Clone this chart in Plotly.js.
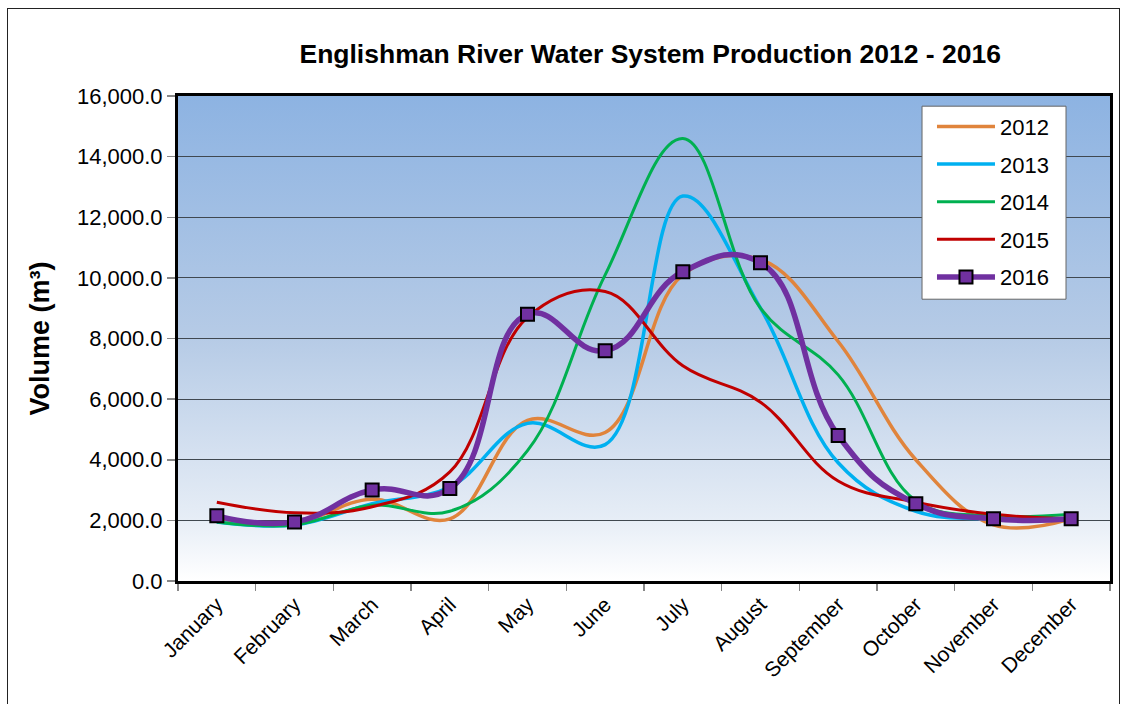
<!DOCTYPE html>
<html>
<head>
<meta charset="utf-8">
<script src="https://cdn.plot.ly/plotly-3.0.1.min.js"></script>
<style>
  html, body { margin: 0; padding: 0; background: #fff; overflow: hidden; }
  #chart { width: 1123px; height: 704px; position: absolute; left: 0; top: 0; }
  #frame { position: absolute; left: 7px; top: 8px; width: 1111px; height: 720px;
           border: 1.5px solid #222; pointer-events: none; }
</style>
</head>
<body>
<div id="chart"></div>
<div id="frame"></div>
<script>
const months = ["January","February","March","April","May","June","July","August","September","October","November","December"];
const y2012 = [2050, 1900, 2700, 2050, 5300, 4900, 10100, 10600, 7900, 4000, 1850, 2050];
const y2013 = [1950, 1850, 2550, 3100, 5200, 4500, 12700, 9000, 3900, 2300, 2050, 2050];
const y2014 = [1950, 1850, 2500, 2300, 4300, 10100, 14600, 9000, 6800, 2650, 2150, 2200];
const y2015 = [2600, 2250, 2450, 3600, 8700, 9550, 7100, 5900, 3300, 2600, 2200, 2050];
const y2016 = [2150, 1950, 3000, 3050, 8800, 7600, 10200, 10500, 4800, 2550, 2050, 2050];

const seriesNames = ["2012","2013","2014","2015","2016"];
const seriesData = [y2012, y2013, y2014, y2015, y2016];
const colors = ["#E0843C", "#00B0F0", "#00B050", "#C00000", "#7030A0"];
const widths = [3.5, 3.5, 3, 3, 5.5];
const smooth = [1.1, 1.1, 1.1, 1.1, 1.3];

const traces = seriesData.map((ys, i) => {
  const t = {
    x: months, y: ys, name: seriesNames[i], type: "scatter",
    mode: i === 4 ? "lines+markers" : "lines",
    legendgroup: "g" + i,
    line: { color: colors[i], width: widths[i], shape: "spline", smoothing: smooth[i] }
  };
  if (i === 4) {
    t.marker = { symbol: "square", size: 13, color: "#7030A0", line: { color: "#000", width: 2 } };
  }
  return t;
});

const gradSvg = '<svg xmlns="http://www.w3.org/2000/svg" width="100" height="100" preserveAspectRatio="none">' +
  '<defs><linearGradient id="g" x1="0" y1="0" x2="0" y2="1">' +
  '<stop offset="0" stop-color="#8DB3E2"/>' +
  '<stop offset="0.5" stop-color="#B6CBE6"/>' +
  '<stop offset="0.87" stop-color="#E6EDF6"/>' +
  '<stop offset="1" stop-color="#FFFFFF"/>' +
  '</linearGradient></defs><rect width="100" height="100" fill="url(#g)"/></svg>';
const gradUri = "data:image/svg+xml;base64," + btoa(gradSvg);

const layout = {
  width: 1123, height: 704,
  margin: { l: 178, r: 13, t: 96, b: 123 },
  paper_bgcolor: "rgba(0,0,0,0)",
  plot_bgcolor: "rgba(0,0,0,0)",
  font: { family: "Liberation Sans, Arial, sans-serif", color: "#000" },
  title: {
    text: "<b>Englishman River Water System Production 2012 - 2016</b>",
    font: { size: 26.5, family: "Liberation Sans, Arial, sans-serif", color: "#000" },
    xref: "container", x: 0.579, xanchor: "center", y: 0.924, yanchor: "middle"
  },
  images: [{
    source: gradUri, xref: "paper", yref: "paper", x: 0, y: 1, sizex: 1, sizey: 1,
    xanchor: "left", yanchor: "top", sizing: "stretch", layer: "below"
  }],
  shapes: [{
    type: "rect", xref: "paper", yref: "paper",
    x0: 0.7983, x1: 0.9528, y0: 0.581, y1: 0.979,
    fillcolor: "#FFFFFF", line: { color: "#666", width: 1 }, layer: "above"
  }],
  xaxis: {
    type: "category",
    tickangle: -45,
    tickson: "boundaries",
    ticks: "outside", ticklen: 7, tickcolor: "#888", tickwidth: 1.5,
    tickfont: { size: 21 },
    showgrid: false,
    showline: true, linecolor: "#000", linewidth: 3, mirror: true,
    range: [-0.5, 11.5]
  },
  yaxis: {
    range: [0, 16000],
    tickvals: [0, 2000, 4000, 6000, 8000, 10000, 12000, 14000, 16000],
    tickformat: ",.1f",
    ticks: "outside", ticklen: 8, tickcolor: "#888", tickwidth: 1.5,
    tickfont: { size: 22 },
    showgrid: true, gridcolor: "#404850", gridwidth: 1.2,
    zeroline: false,
    showline: true, linecolor: "#000", linewidth: 3, mirror: true,
    title: { text: "<b>Volume (m³)</b>", font: { size: 27 }, standoff: 20 }
  },
  legend: {
    x: 0.809, y: 0.98, xanchor: "left", yanchor: "top",
    bgcolor: "rgba(0,0,0,0)", borderwidth: 0,
    font: { size: 22 },
    tracegroupgap: 6,
    itemwidth: 58
  },
  showlegend: true
};

Plotly.newPlot("chart", traces, layout, { staticPlot: true, displayModeBar: false });
</script>
</body>
</html>
